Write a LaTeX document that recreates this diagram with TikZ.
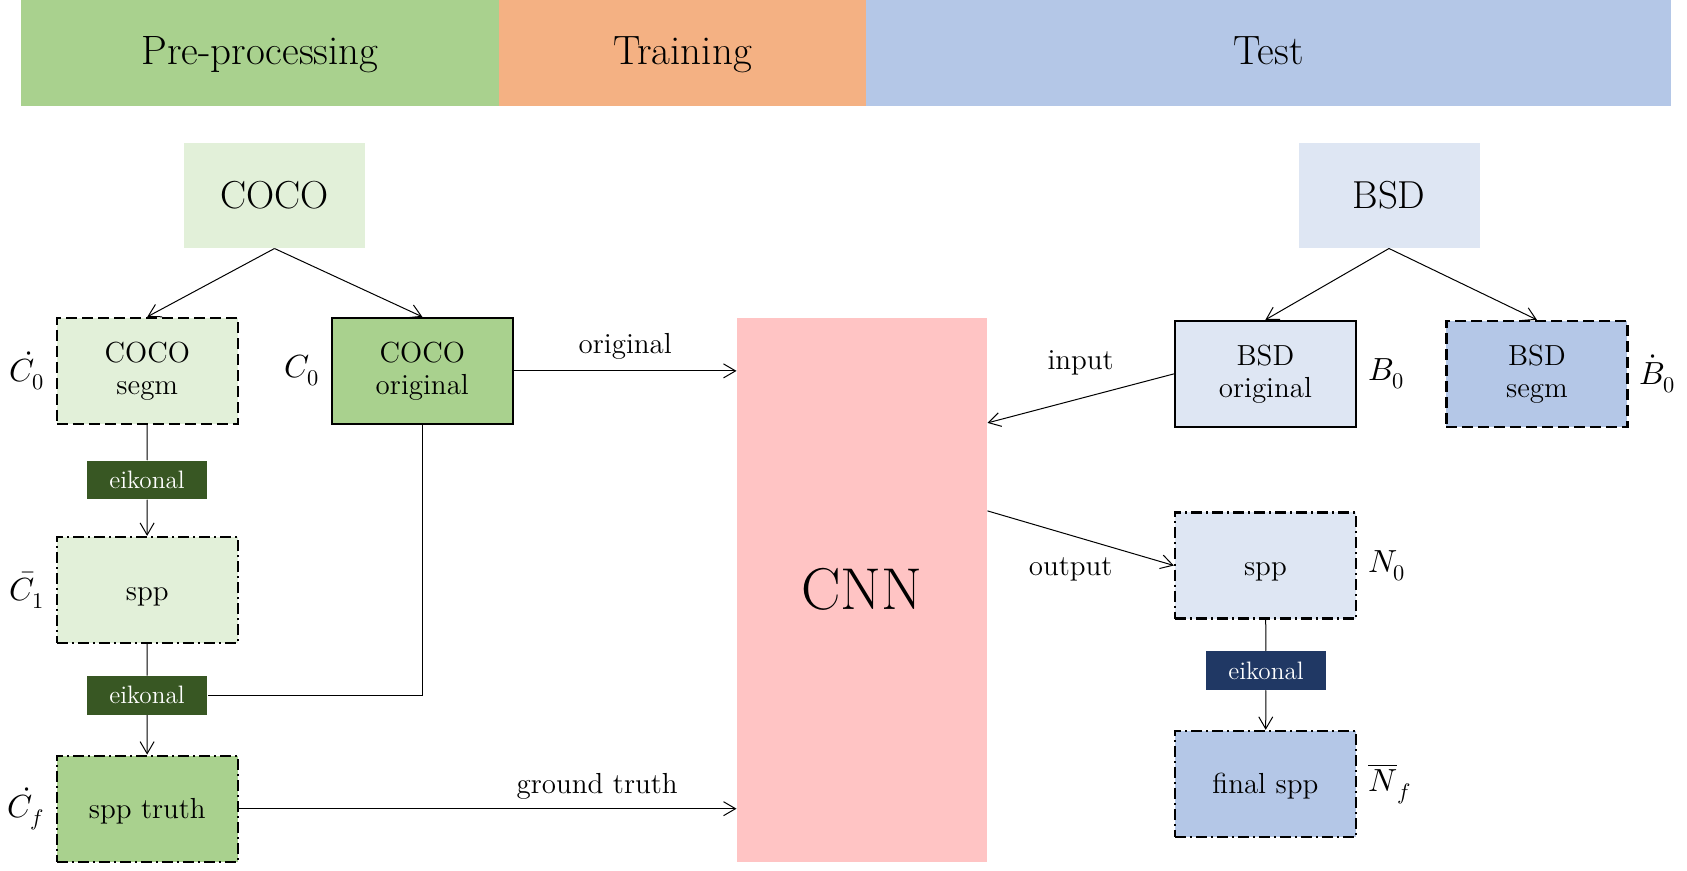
\documentclass[tikz,border=0pt]{standalone}
\usepackage{unicode-math}
\usepackage{color}
\usetikzlibrary{arrows.meta}

\definecolor{hdrgreen}{HTML}{A9D18E}
\definecolor{hdrorange}{HTML}{F4B183}
\definecolor{hdrblue}{HTML}{B4C7E7}
\definecolor{lightgreen}{HTML}{E2F0D9}
\definecolor{lightblue}{HTML}{DEE6F3}
\definecolor{cnnpink}{HTML}{FFC4C4}
\definecolor{eikgreen}{HTML}{385723}
\definecolor{eikblue}{HTML}{203864}

\begin{document}
\begin{tikzpicture}[x=0.5pt,y=-0.5pt,line width=0.5pt,>={Straight Barb[length=6pt,width=7pt]},
	hdr node/.style={rectangle,fill=#1,minimum height=53pt,inner sep=0pt,text height=16pt,text depth=4pt,font=\fontsize{20.5}{24}\selectfont},
	src node/.style={rectangle,fill=#1,minimum width=90.5pt,minimum height=52.5pt,font=\fontsize{19.5}{23}\selectfont},
	main node/.style={rectangle,draw,line width=1.1pt,fill=#1,minimum width=90.5pt,minimum height=53pt,align=center,font=\fontsize{14.5}{16}\selectfont},
	seg node/.style={main node=#1,dash pattern=on 5.5pt off 2.5pt},
	spp node/.style={main node=#1,dash pattern=on 5.5pt off 2pt on 1pt off 2pt,text height=12pt,text depth=2pt},
	eik node/.style={rectangle,fill=#1,text=white,minimum width=60pt,minimum height=19.25pt,inner sep=0pt,font=\fontsize{12.6}{14}\selectfont},
	arrow label/.style={font=\fontsize{14.5}{16}\selectfont},
	every label/.style={font=\fontsize{16}{18}\selectfont}, label distance=2pt]
    \useasboundingbox (0,0) rectangle (1687,871);

    \node[hdr node=hdrgreen,minimum width=239pt] (PRE) at (260,53) {Pre-processing};
    \node[hdr node=hdrorange,minimum width=183.5pt] (TRA) at (682.5,53) {Training};
    \node[hdr node=hdrblue,minimum width=402.5pt] (TST) at (1268.5,53) {Test};

    \node[src node=lightgreen] (COCO) at (274.5,195.5) {COCO};
    \node[seg node=lightgreen,label={left:$\dot{C}_0$}] (CS) at (147.3,370.9) {COCO\\segm};
    \node[main node=hdrgreen,label={left:$C_0$}] (CO) at (422.3,370.9) {COCO\\original};
    \node[eik node=eikgreen] (E1) at (147,480) {eikonal};
    \node[spp node=lightgreen,label={left:$\bar{C}_1$}] (C1) at (147.3,590) {spp};
    \node[eik node=eikgreen] (E2) at (147,695.3) {eikonal};
    \node[spp node=hdrgreen,label={left:$\dot{C}_f$}] (CF) at (147.3,808.7) {spp truth};

    \node[rectangle,fill=cnnpink,minimum width=125pt,minimum height=272pt,font=\fontsize{29.5}{34}\selectfont] (CNN) at (862,589.7) {CNN};

    \node[src node=lightblue] (BSD) at (1389,195.5) {BSD};
    \node[main node=lightblue,label={right:$B_0$}] (BO) at (1265.4,373.9) {BSD\\original};
    \node[seg node=hdrblue,label={right:$\dot{B}_0$}] (BS) at (1536.9,373.9) {BSD\\segm};
    \node[spp node=lightblue,label={right:$N_0$}] (N0) at (1265.4,565.5) {spp};
    \node[eik node=eikblue] (E3) at (1266,670.5) {eikonal};
    \node[spp node=hdrblue,label={right:$\overline{N}_f$}] (NF) at (1265.4,783.9) {final spp};

    % pre-processing
    \draw[->] (COCO.south) -- (CS.north);
    \draw[->] (COCO.south) -- (CO.north);
    \draw (CS) -- (E1);
    \draw[->] (E1) -- (C1);
    \draw (C1) -- (E2);
    \draw[->] (E2) -- (CF);
    \draw (CO.south) |- (E2.east);

    % training
    \draw[->] (CO.east) -- (CO.east -| CNN.west) node[midway,above=2pt,arrow label] {original};
    \draw[->] (CF.east) -- (CF.east -| CNN.west) node[pos=0.72,above=1pt,arrow label] {ground truth};

    % test
    \draw[->] (BSD.south) -- (BO.north);
    \draw[->] (BSD.south) -- (BS.north);
    \draw[->] (BO.west) -- ([yshift=83.4pt]CNN.east) node[midway,above=8pt,arrow label] {input};
    \draw[->] ([yshift=39.4pt]CNN.east) -- (N0.west) node[midway,below=6pt,xshift=-5pt,arrow label] {output};
    \draw (N0) -- (E3);
    \draw[->] (E3) -- (NF);
\end{tikzpicture}
\end{document}
